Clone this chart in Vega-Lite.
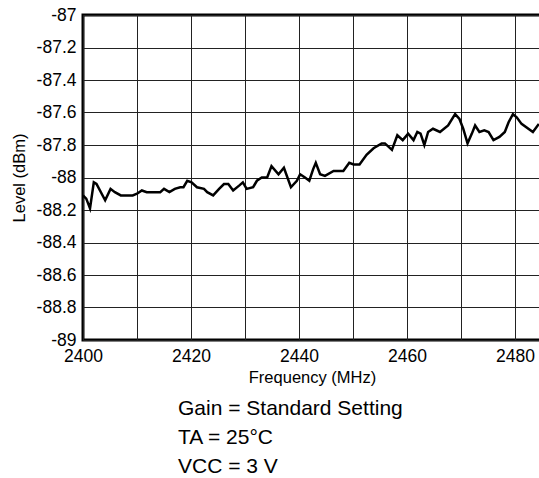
{
  "$schema": "https://vega.github.io/schema/vega-lite/v6.json",
  "width": 458,
  "height": 325,
  "autosize": {"type": "none"},
  "padding": {"left": 83, "top": 15, "right": 0, "bottom": 138},
  "background": "white",
  "config": {
    "view": {"stroke": "black", "strokeWidth": 3},
    "font": "Liberation Sans",
    "axis": {"labelFont": "Liberation Sans", "titleFont": "Liberation Sans", "labelColor": "black", "titleColor": "black", "titleFontWeight": "normal"}
  },
  "title": {
    "text": ["Gain = Standard Setting", "TA = 25°C", "VCC = 3 V"],
    "orient": "bottom",
    "anchor": "start",
    "frame": "group",
    "dx": 95,
    "offset": 12,
    "fontSize": 21,
    "fontWeight": "normal",
    "font": "Liberation Sans",
    "color": "black",
    "lineHeight": 29
  },
  "data": {
    "values": [
      {"f": 2400.0, "level": -88.11}, {"f": 2400.6, "level": -88.13}, {"f": 2401.3, "level": -88.19},
      {"f": 2402.0, "level": -88.03}, {"f": 2402.5, "level": -88.04}, {"f": 2404.1, "level": -88.14},
      {"f": 2405.1, "level": -88.07}, {"f": 2405.9, "level": -88.09}, {"f": 2407.0, "level": -88.11},
      {"f": 2409.2, "level": -88.11}, {"f": 2410.0, "level": -88.10}, {"f": 2410.9, "level": -88.08},
      {"f": 2411.8, "level": -88.09}, {"f": 2412.4, "level": -88.09}, {"f": 2414.3, "level": -88.09},
      {"f": 2415.0, "level": -88.07}, {"f": 2416.0, "level": -88.09}, {"f": 2417.0, "level": -88.07},
      {"f": 2418.0, "level": -88.06}, {"f": 2418.6, "level": -88.06}, {"f": 2419.3, "level": -88.02},
      {"f": 2420.1, "level": -88.03}, {"f": 2421.1, "level": -88.06}, {"f": 2422.4, "level": -88.07},
      {"f": 2423.0, "level": -88.09}, {"f": 2424.1, "level": -88.11}, {"f": 2425.2, "level": -88.07},
      {"f": 2426.1, "level": -88.04}, {"f": 2426.9, "level": -88.04}, {"f": 2427.8, "level": -88.08},
      {"f": 2428.9, "level": -88.05}, {"f": 2429.6, "level": -88.03}, {"f": 2430.3, "level": -88.07},
      {"f": 2431.5, "level": -88.06}, {"f": 2432.2, "level": -88.02}, {"f": 2433.1, "level": -88.00},
      {"f": 2434.1, "level": -88.00}, {"f": 2434.9, "level": -87.93}, {"f": 2436.2, "level": -87.98},
      {"f": 2437.2, "level": -87.94}, {"f": 2438.5, "level": -88.06}, {"f": 2439.6, "level": -88.02},
      {"f": 2440.2, "level": -87.98}, {"f": 2441.1, "level": -88.00}, {"f": 2441.9, "level": -88.02},
      {"f": 2442.6, "level": -87.95}, {"f": 2443.1, "level": -87.91}, {"f": 2443.9, "level": -87.98},
      {"f": 2444.8, "level": -87.99}, {"f": 2446.4, "level": -87.96}, {"f": 2448.2, "level": -87.96},
      {"f": 2449.3, "level": -87.91}, {"f": 2450.1, "level": -87.92}, {"f": 2451.2, "level": -87.92},
      {"f": 2452.5, "level": -87.86}, {"f": 2453.8, "level": -87.82}, {"f": 2455.3, "level": -87.79},
      {"f": 2455.9, "level": -87.79}, {"f": 2457.2, "level": -87.83}, {"f": 2458.2, "level": -87.74},
      {"f": 2459.2, "level": -87.77}, {"f": 2460.2, "level": -87.73}, {"f": 2461.2, "level": -87.77},
      {"f": 2461.9, "level": -87.72}, {"f": 2462.5, "level": -87.73}, {"f": 2463.2, "level": -87.80},
      {"f": 2463.9, "level": -87.72}, {"f": 2464.8, "level": -87.70}, {"f": 2466.1, "level": -87.72},
      {"f": 2467.6, "level": -87.68}, {"f": 2468.9, "level": -87.61}, {"f": 2469.7, "level": -87.64},
      {"f": 2470.4, "level": -87.70}, {"f": 2471.2, "level": -87.79}, {"f": 2472.0, "level": -87.73},
      {"f": 2472.6, "level": -87.68}, {"f": 2473.4, "level": -87.72}, {"f": 2474.3, "level": -87.71},
      {"f": 2475.1, "level": -87.72}, {"f": 2476.0, "level": -87.77}, {"f": 2477.1, "level": -87.75},
      {"f": 2478.1, "level": -87.72}, {"f": 2478.8, "level": -87.66}, {"f": 2479.6, "level": -87.61},
      {"f": 2480.3, "level": -87.63}, {"f": 2481.2, "level": -87.67}, {"f": 2483.3, "level": -87.72},
      {"f": 2484.4, "level": -87.67}
    ]
  },
  "mark": {"type": "line", "color": "black", "strokeWidth": 2.5, "clip": true},
  "encoding": {
    "x": {
      "field": "f",
      "type": "quantitative",
      "scale": {"domain": [2400, 2484.8], "nice": false, "zero": false},
      "axis": {
        "title": "Frequency (MHz)",
        "values": [2400, 2410, 2420, 2430, 2440, 2450, 2460, 2470, 2480],
        "labelExpr": "datum.value % 20 === 0 ? '' + datum.value : ''",
        "labelFlush": false,
        "labelOverlap": false,
        "domain": false,
        "ticks": false,
        "grid": true,
        "gridColor": "#222",
        "gridWidth": 1,
        "gridOpacity": 1,
        "labelFontSize": 17.5,
        "labelPadding": 7,
        "titleFontSize": 16.5,
        "titlePadding": 5
      }
    },
    "y": {
      "field": "level",
      "type": "quantitative",
      "scale": {"domain": [-89, -87], "nice": false, "zero": false},
      "axis": {
        "title": "Level (dBm)",
        "values": [-89, -88.8, -88.6, -88.4, -88.2, -88, -87.8, -87.6, -87.4, -87.2, -87],
        "labelExpr": "replace(format(datum.value, '.1~f'), '−', '-')",
        "labelFlush": false,
        "labelOverlap": false,
        "domain": false,
        "ticks": false,
        "grid": true,
        "gridColor": "#222",
        "gridWidth": 1,
        "gridOpacity": 1,
        "labelFontSize": 17.5,
        "labelPadding": 7,
        "titleFontSize": 16.5,
        "titlePadding": 9
      }
    }
  }
}
